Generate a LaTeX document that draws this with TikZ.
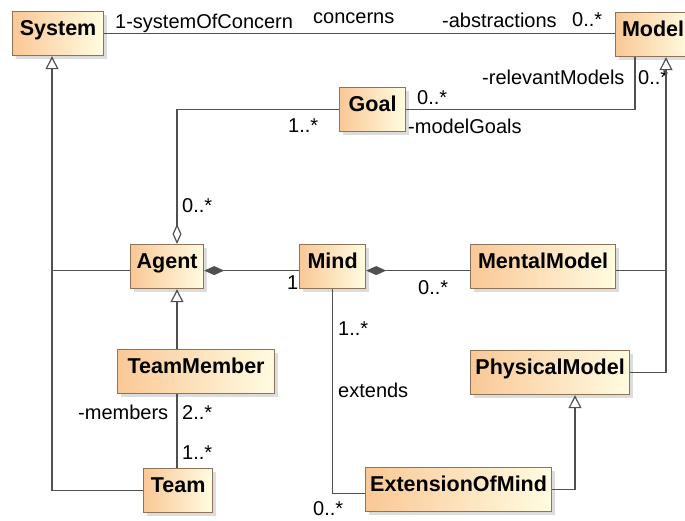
\documentclass[tikz,border=0pt]{standalone}
\usepackage{fontspec}
\setmainfont{Liberation Sans}
\usetikzlibrary{arrows.meta,shadows}
\definecolor{boxL}{RGB}{250,200,150}
\definecolor{boxR}{RGB}{255,252,225}
\definecolor{boxB}{RGB}{140,115,90}
\definecolor{lineC}{RGB}{80,80,80}
\tikzset{
 cls/.style={draw=boxB, line width=1.2pt, left color=boxL, right color=boxR, anchor=north west,
   minimum height=44pt, inner xsep=0pt, inner ysep=0pt, text height=24pt, text depth=20pt,
   font=\fontsize{21.5}{24}\selectfont\bfseries,
   drop shadow={shadow xshift=3pt, shadow yshift=-3pt, fill=black!25, opacity=0.55}},
 lbl/.style={inner sep=0pt, anchor=west, text height=14.3pt, text depth=0pt, font=\fontsize{20}{24}\selectfont},
 conn/.style={draw=lineC, line width=1.4pt},
 gen/.style={conn, -{Triangle[open, length=13pt, width=13pt, line width=1.2pt]}},
 comp/.style={conn, {Diamond[length=20pt, width=9pt]}-},
 aggr/.style={conn, {Diamond[open, length=20pt, width=9pt, line width=1.2pt]}-},
}
\begin{document}
\begin{tikzpicture}[x=1pt, y=-1pt]
\useasboundingbox (0,0) rectangle (685,520);
% classes
\node[cls, minimum width=91pt] (System) at (12,11) {System};
\node[cls, minimum width=75pt] (Model) at (615,12) {Model};
\node[cls, minimum width=66pt] (Goal) at (339,87) {Goal};
\node[cls, minimum width=73pt] (Agent) at (130,244) {Agent};
\node[cls, minimum width=66pt] (Mind) at (299,244) {Mind};
\node[cls, minimum width=145pt] (MentalModel) at (470,244) {MentalModel};
\node[cls, minimum width=159pt] (PhysicalModel) at (470,350) {PhysicalModel};
\node[cls, minimum width=186pt] (EoM) at (365,467) {ExtensionOfMind};
\node[cls, minimum width=157pt] (TeamMember) at (117,349) {TeamMember};
\node[cls, minimum width=69pt] (Team) at (143,468) {Team};
% helper coordinates
\coordinate (sx) at (52,0);
\coordinate (vx) at (177,0);
\coordinate (mx) at (666,0);
\coordinate (gx) at (635,0);
\coordinate (px) at (575,0);
% labels
\node[lbl] (l1) at (115,21) {1-systemOfConcern};
\node[lbl] (l2) at (313,16) {concerns};
\node[lbl] (l3) at (442,20) {-abstractions};
\node[lbl] (l4) at (572,19) {0..*};
\node[lbl] (l5) at (482,77) {-relevantModels};
\node[lbl] (l6) at (638,77) {0..*};
\node[lbl] (l7) at (417,97) {0..*};
\node[lbl] (l8) at (408,126) {-modelGoals};
\node[lbl] (l9) at (288,125) {1..*};
\node[lbl] (l10) at (182,205) {0..*};
\node[lbl] (l11) at (287,282) {1};
\node[lbl] (l12) at (418,287) {0..*};
\node[lbl] (l13) at (338,328) {1..*};
\node[lbl] (l14) at (338,390) {extends};
\node[lbl] (l15) at (313,508) {0..*};
\node[lbl] (l16) at (78,412) {-members};
\node[lbl] (l17) at (182,412) {2..*};
\node[lbl] (l18) at (182,452) {1..*};
% connectors
\draw[conn] (System.east) -- (System.east -| Model.west);
\draw[gen] (Team.west) -| (System.south -| sx);
\draw[conn] ([yshift=-4pt]Agent.west) -- ([yshift=-4pt]Agent.west -| sx);
\draw[gen] (PhysicalModel.east) -| (Model.south -| mx);
\draw[conn] ([yshift=-4pt]MentalModel.east) -- ([yshift=-4pt]MentalModel.east -| mx);
\draw[conn] (Goal.east) -| (Model.south -| gx);
\draw[aggr] (Agent.north -| vx) |- (Goal.west);
\draw[comp] ([yshift=-4pt]Agent.east) -- ([yshift=-4pt]Mind.west);
\draw[comp] ([yshift=-4pt]Mind.east) -- ([yshift=-4pt]MentalModel.west);
\draw[conn] (Mind.south) |- ([yshift=-4pt]EoM.west);
\draw[gen] (EoM.east) -| (PhysicalModel.south -| px);
\draw[gen] (TeamMember.north -| vx) -- (Agent.south -| vx);
\draw[conn] (TeamMember.south -| vx) -- (Team.north -| vx);
\end{tikzpicture}
\end{document}
